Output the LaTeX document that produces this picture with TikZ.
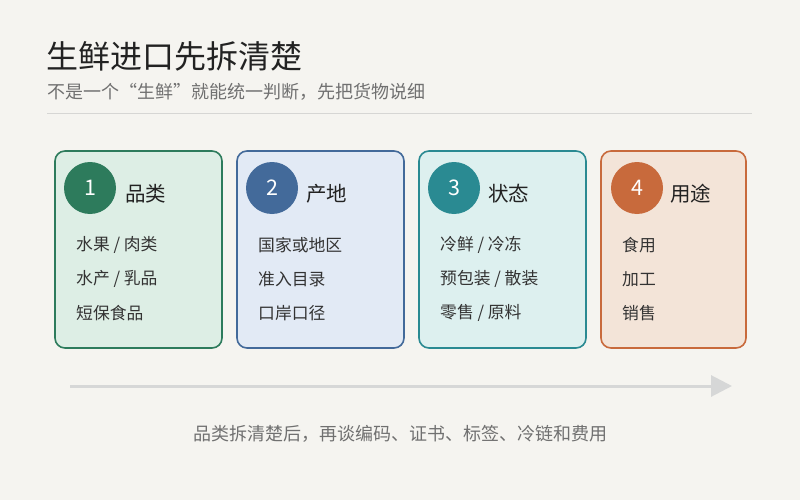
\documentclass[tikz,border=0pt]{standalone}
\usepackage{fontspec}
\setmainfont{Noto Sans CJK SC}
\setsansfont{Noto Sans CJK SC}
\usetikzlibrary{arrows.meta}
\definecolor{bg}{HTML}{F5F4F0}
\definecolor{titlec}{HTML}{222222}
\definecolor{subc}{HTML}{707070}
\definecolor{itemc}{HTML}{333333}
\definecolor{sepc}{HTML}{D6D6D4}
\definecolor{arrc}{HTML}{D6D7D7}
\definecolor{gA}{HTML}{2D7B5C}\definecolor{gAf}{HTML}{DDEEE5}
\definecolor{bA}{HTML}{436A9A}\definecolor{bAf}{HTML}{E2EAF5}
\definecolor{tA}{HTML}{2A8A92}\definecolor{tAf}{HTML}{DDF0EF}
\definecolor{oA}{HTML}{C86A3C}\definecolor{oAf}{HTML}{F3E4D8}
\tikzset{
  card/.style={draw=#1, line width=1.6pt, rounded corners=10pt},
  badge/.style={circle, fill=#1, minimum size=52pt, inner sep=0pt, text=white, font=\fontsize{21.5}{24}\selectfont},
  cardtitle/.style={anchor=west, inner sep=0pt, text=titlec, font=\fontsize{20.5}{24}\selectfont},
  item/.style={anchor=west, inner sep=0pt, text=itemc, font=\fontsize{16.8}{20}\selectfont},
}
\begin{document}
\begin{tikzpicture}[x=1pt,y=-1pt]
\fill[bg] (0,0) rectangle (800,500);
\useasboundingbox (0,0) rectangle (800,500);
\node[anchor=west, inner sep=0pt, text=titlec, font=\fontsize{32}{36}\selectfont] (title) at (46,56) {生鲜进口先拆清楚};
\node[anchor=west, inner sep=0pt, text=subc, font=\fontsize{18}{21}\selectfont] (sub) at (47,92) {不是一个“生鲜”就能统一判断，先把货物说细};
\coordinate (s1) at (47,113.5);
\coordinate (s2) at (752,113.5);
\draw[sepc, line width=1.8pt] (s1) -- (s2);

% card 1
\filldraw[card=gA, fill=gAf] (55,151) rectangle (222,348);
\node[badge=gA] (c1) at (90,188) {1};
\node[cardtitle] (t1) at (125,194) {品类};
\node[item] (i11) at (76,245) {水果 / 肉类};
\node[item] (i12) at (76,279) {水产 / 乳品};
\node[item] (i13) at (76,313) {短保食品};
% card 2
\filldraw[card=bA, fill=bAf] (237,151) rectangle (404,348);
\node[badge=bA] (c2) at (272,188) {2};
\node[cardtitle] (t2) at (306,194) {产地};
\node[item] (i21) at (258,245) {国家或地区};
\node[item] (i22) at (258,279) {准入目录};
\node[item] (i23) at (258,313) {口岸口径};
% card 3
\filldraw[card=tA, fill=tAf] (419,151) rectangle (586,348);
\node[badge=tA] (c3) at (454,188) {3};
\node[cardtitle] (t3) at (488,194) {状态};
\node[item] (i31) at (440,245) {冷鲜 / 冷冻};
\node[item] (i32) at (440,279) {预包装 / 散装};
\node[item] (i33) at (440,313) {零售 / 原料};
% card 4
\filldraw[card=oA, fill=oAf] (601,151) rectangle (746,348);
\node[badge=oA] (c4) at (637,188) {4};
\node[cardtitle] (t4) at (670,194) {用途};
\node[item] (i41) at (622,245) {食用};
\node[item] (i42) at (622,279) {加工};
\node[item] (i43) at (622,313) {销售};

% arrow
\coordinate (a1) at (70,386);
\coordinate (a2) at (732,386);
\draw[arrc, line width=3pt, -{Triangle[length=21pt,width=21pt]}] (a1) -- (a2);

\node[inner sep=0pt, text=subc, font=\fontsize{18}{21}\selectfont] (foot) at (400,434) {品类拆清楚后，再谈编码、证书、标签、冷链和费用};
\end{tikzpicture}
\end{document}
